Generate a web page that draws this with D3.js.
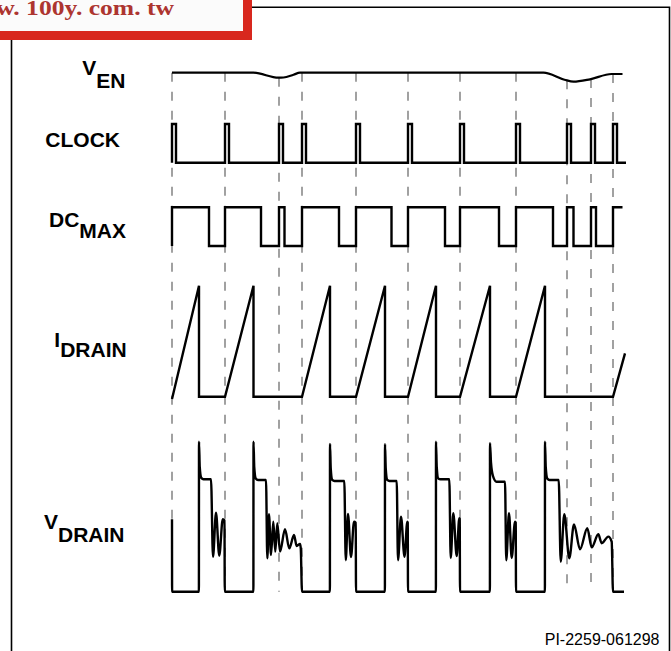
<!DOCTYPE html>
<html>
<head>
<meta charset="utf-8">
<script src="https://cdn.jsdelivr.net/npm/d3@7"></script>
<style>
html,body{margin:0;padding:0;background:#fff;}
svg{display:block;}
</style>
</head>
<body>
<script>
// ---------------- data (time in arbitrary units, levels normalised) ----------------
const clockEdges = [0, 10.6, 21.4, 26, 36.8, 47.2, 57.6, 68.8, 79, 83.8, 88.2];
const clockPulse = 0.8;
const clockEnd = 90.8;

const venT = [0, 16.3, 21.3, 22.3, 24.3, 25.6, 74.3, 78.5, 80.3, 83.6, 87.9, 90.1];
const venV = [1, 1, 0.5, 0.52, 0.8, 1, 1, 0.3, 0.1, 0.34, 0.87, 0.87];

const dcT = [0, 0, 7.4, 10.6, 17.8, 21.4, 22.5, 26, 33.4, 36.8, 43.9, 47.2, 54.6, 57.6, 65.4, 68.8, 76.2, 79, 80.3, 83.8, 84.8, 88.2, 90.1];
const dcL = [0, 1, 0, 1, 0, 1, 0, 1, 0, 1, 0, 1, 0, 1, 0, 1, 0, 1, 0, 1, 0, 1, 1];

const idT = [0, 5.4, 5.4, 10.6, 16.3, 16.3, 26, 31.6, 31.6, 36.8, 42.6, 42.6, 47.2, 52.8, 52.8, 57.6, 63.6, 63.6, 68.8, 74.6, 74.6, 88.2, 90.6];
const idV = [-0.02, 1, 0, 0, 1, 0, 0, 1, 0, 0, 1, 0, 0, 1, 0, 0, 1, 0, 0, 1, 0, 0, 0.39];

const vdT = [
  0, 0.02,
  5.38, 5.4, 5.55, 5.85, 6.3, 7.8, 8.2, 8.8, 9.45, 10.15, 10.5, 10.55,
  16.28, 16.3, 16.45, 16.75, 17.2, 18.8, 19.06, 19.4, 19.8, 20.26, 20.66, 21.06, 21.6, 22.6, 23.46, 24.4, 24.94, 25.6, 25.75, 26,
  31.58, 31.6, 31.75, 32.05, 32.5, 34.46, 34.75, 35.2, 35.8, 36.4, 36.75, 36.8,
  42.58, 42.6, 42.75, 43.05, 43.5, 44.94, 45.2, 45.8, 46.5, 47.06, 47.15, 47.2,
  52.78, 52.8, 52.95, 53.25, 53.7, 55.46, 55.74, 56.26, 56.94, 57.45, 57.55, 57.6,
  63.58, 63.6, 63.8, 64.2, 64.9, 66.6, 66.85, 67.4, 67.94, 68.6, 68.75, 68.8,
  74.58, 74.6, 74.75, 75.05, 75.5, 77.34, 77.74, 78.46, 79.46, 80.4, 81.6, 83.06, 83.94, 85.26, 85.94, 87.26, 87.94, 88.2, 90.4
];
const vdV = [
  4.83, 0,
  0, 10, 8.3, 7.6, 7.5, 7.5, 2.33, 5.27, 2.4, 4.83, 4.75, 0,
  0, 10, 8.3, 7.55, 7.45, 7.45, 2.23, 5.16, 2.45, 4.67, 2.67, 4.56, 2.67, 4.16, 2.89, 3.78, 3.05, 3.18, 2.9, 0,
  0, 9.85, 8.2, 7.45, 7.38, 7.38, 2.1, 5.18, 2.31, 4.67, 4.6, 0,
  0, 9.83, 8.2, 7.45, 7.38, 7.38, 2.1, 5.0, 2.33, 4.67, 4.6, 0,
  0, 10, 8.3, 7.55, 7.5, 7.5, 2.25, 5.23, 2.38, 4.9, 4.85, 0,
  0, 9.9, 8.6, 7.7, 7.33, 7.33, 2.1, 5.23, 2.25, 4.67, 4.6, 0,
  0, 10, 8.3, 7.55, 7.45, 7.45, 2.0, 5.16, 2.23, 4.49, 2.83, 4.23, 2.96, 3.83, 3.23, 3.67, 3.33, 0, 0
];

const labels = [
  {main: "V", sub: "EN"},
  {main: "CLOCK", sub: ""},
  {main: "DC", sub: "MAX"},
  {main: "I", sub: "DRAIN"},
  {main: "V", sub: "DRAIN"}
];
const footer = "PI-2259-061298";
const watermark = "www. 100y. com. tw";

// ---------------- drawing ----------------
const W = 671, H = 651;
const svg = d3.select("body").append("svg").attr("width", W).attr("height", H);

const x = d3.scaleLinear().domain([0, 100]).range([172, 672]);
const yVen = d3.scaleLinear().domain([0, 1]).range([82.7, 72.7]);
const yClk = d3.scaleLinear().domain([0, 1]).range([162.7, 124]);
const yDc = d3.scaleLinear().domain([0, 1]).range([246, 207.3]);
const yId = d3.scaleLinear().domain([0, 1]).range([396.7, 285.7]);
const yVd = d3.scaleLinear().domain([0, 10]).range([591.7, 441.7]);

// frame
svg.append("path")
  .attr("d", `M252,7.2 H669.5 V651 M11.5,40 V651`)
  .attr("fill", "none").attr("stroke", "#000").attr("stroke-width", 1.6);

// dashed clock markers
function venAt(t) {
  for (let i = 0; i < venT.length - 1; i++) {
    if (t >= venT[i] && t <= venT[i + 1]) {
      const f = (t - venT[i]) / (venT[i + 1] - venT[i] || 1);
      return venV[i] + f * (venV[i + 1] - venV[i]);
    }
  }
  return venV[venV.length - 1];
}
svg.append("g").selectAll("line").data(clockEdges).join("line")
  .attr("x1", d => x(d)).attr("x2", d => x(d))
  .attr("y1", d => yVen(venAt(d))).attr("y2", yVd(0))
  .attr("stroke", "#555").attr("stroke-width", 1.1)
  .attr("stroke-dasharray", "9,10");

const traces = svg.append("g").attr("fill", "none").attr("stroke", "#000")
  .attr("stroke-linejoin", "miter").attr("stroke-linecap", "butt");

// VEN
traces.append("path")
  .attr("d", d3.line().x(d => x(d[0])).y(d => yVen(d[1])).curve(d3.curveMonotoneX)(venT.map((t, i) => [t, venV[i]])))
  .attr("stroke-width", 2.2);

// CLOCK
const clkPts = [];
clockEdges.forEach(t => {
  clkPts.push([t, 0], [t, 1], [t + clockPulse, 1], [t + clockPulse, 0]);
});
clkPts.push([clockEnd, 0]);
traces.append("path")
  .attr("d", d3.line().x(d => x(d[0])).y(d => yClk(d[1]))(clkPts))
  .attr("stroke-width", 2.4);

// DCMAX
traces.append("path")
  .attr("d", d3.line().x(d => x(d[0])).y(d => yDc(d[1])).curve(d3.curveStepAfter)(dcT.map((t, i) => [t, dcL[i]])))
  .attr("stroke-width", 2.4);

// IDRAIN
traces.append("path")
  .attr("d", d3.line().x(d => x(d[0])).y(d => yId(d[1]))(idT.map((t, i) => [t, idV[i]])))
  .attr("stroke-width", 2.4);

// VDRAIN
traces.append("path")
  .attr("d", d3.line().x(d => x(d[0])).y(d => yVd(d[1])).curve(d3.curveMonotoneX)(vdT.map((t, i) => [t, vdV[i]])))
  .attr("stroke-width", 2.4);

// labels
const labelPos = [
  {x: 125.5, y: 75, dy: 13.3},
  {x: 120, y: 147.3, dy: 0},
  {x: 126, y: 227.3, dy: 10.4},
  {x: 126.7, y: 346.7, dy: 10},
  {x: 124.5, y: 529.3, dy: 12.4}
];
labels.forEach((l, i) => {
  const p = labelPos[i];
  const t = svg.append("text")
    .attr("x", p.x).attr("y", p.y)
    .attr("text-anchor", "end")
    .attr("font-family", "'Liberation Sans', Arial, Helvetica, sans-serif")
    .attr("font-weight", "bold").attr("font-size", 21).attr("fill", "#000");
  t.append("tspan").text(l.main);
  if (l.sub) t.append("tspan").attr("dy", p.dy).text(l.sub);
});

// footer
svg.append("text")
  .attr("x", 659.5).attr("y", 645)
  .attr("text-anchor", "end")
  .attr("font-family", "'Liberation Sans', Arial, Helvetica, sans-serif")
  .attr("font-size", 16).attr("fill", "#000")
  .text(footer);

// watermark box
svg.append("rect")
  .attr("x", -20).attr("y", -20).attr("width", 267.5).attr("height", 55.5)
  .attr("fill", "#fbfbfb").attr("stroke", "#d8281e").attr("stroke-width", 9);
svg.append("text")
  .attr("transform", "translate(174,15) scale(1.28,1)")
  .attr("x", 0).attr("y", 0)
  .attr("text-anchor", "end")
  .attr("font-family", "'Liberation Serif', 'Times New Roman', serif")
  .attr("font-weight", "bold").attr("font-size", 20).attr("fill", "#ad3530")
  .text(watermark);
</script>
</body>
</html>
